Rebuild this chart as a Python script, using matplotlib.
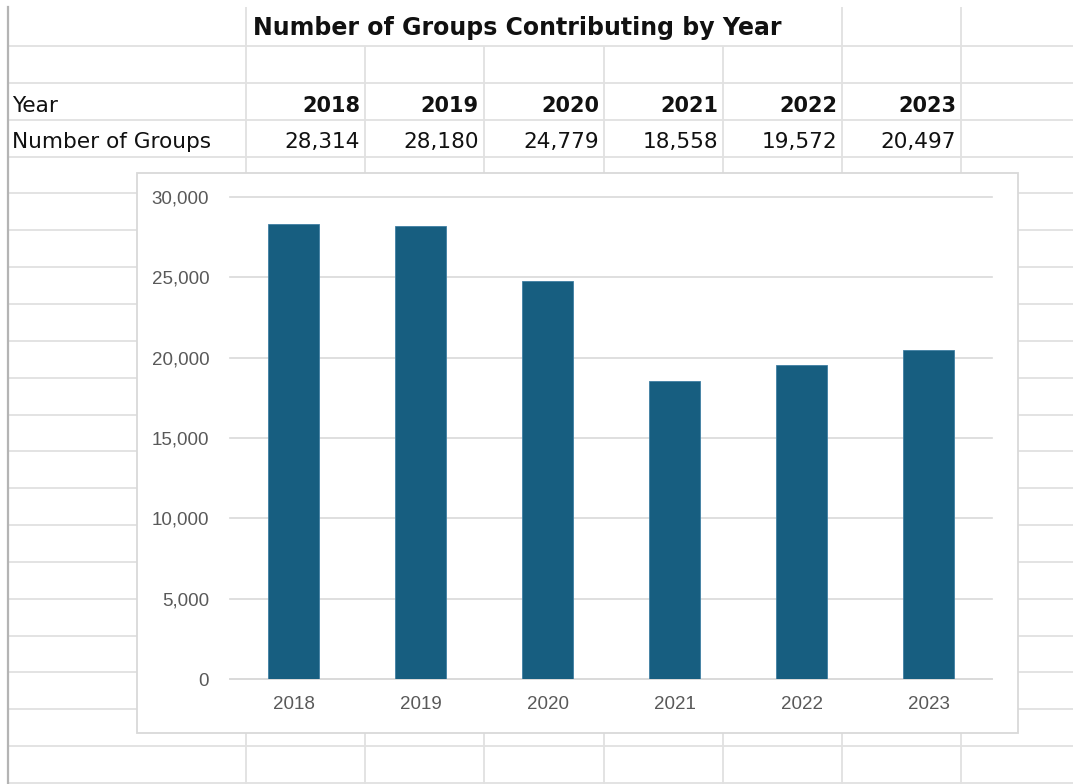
import matplotlib
matplotlib.use("Agg")
import matplotlib.pyplot as plt
from matplotlib.patches import Rectangle
from matplotlib.ticker import FuncFormatter

# ---- data ----
years = ["2018", "2019", "2020", "2021", "2022", "2023"]
groups = [28314, 28180, 24779, 18558, 19572, 20497]
title = "Number of Groups Contributing by Year"
row_labels = ["Year", "Number of Groups"]
y_ticks = [0, 5000, 10000, 15000, 20000, 25000, 30000]

W, H = 1073, 784
fig = plt.figure(figsize=(W / 100, H / 100), dpi=100)
fig.patch.set_facecolor("white")

# ---- spreadsheet background (pixel coordinates) ----
bg = fig.add_axes([0, 0, 1, 1])
bg.set_xlim(0, W)
bg.set_ylim(H, 0)
bg.axis("off")

grid_c = "#e1e1e1"
cols = [246, 365, 484, 604, 723, 842, 961]
row_step = 36.85
rows = [46 + i * row_step for i in range(21)]
top = 7

for r in rows:
    bg.plot([7, W], [r, r], color=grid_c, lw=1.3, solid_capstyle="butt")
for c in cols:
    y0 = top if c in (246, 842, 961) else rows[0]
    bg.plot([c, c], [y0, H], color=grid_c, lw=1.3, solid_capstyle="butt")
bg.plot([7.5, 7.5], [top, H], color="#b4b4b4", lw=1.6)

tfont = dict(family="DejaVu Sans", fontsize=15.6, color="#111111")
bg.text(253, 35, title, fontsize=17, fontweight="bold", family="DejaVu Sans",
        color="#111111", va="baseline", ha="left")
bg.text(12, 111.5, row_labels[0], va="baseline", ha="left", **tfont)
bg.text(12, 148, row_labels[1], va="baseline", ha="left", **tfont)
for i, (yr, g) in enumerate(zip(years, groups)):
    right = cols[i + 1] - 5
    bg.text(right, 111.5, yr, va="baseline", ha="right", fontweight="bold",
            family="DejaVu Sans", fontsize=15, color="#111111")
    bg.text(right, 148, f"{g:,}", va="baseline", ha="right", **tfont)

bg.add_patch(Rectangle((137, 173), 1018 - 137, 733 - 173, facecolor="white",
                       edgecolor="#d9d9d9", lw=1.3, zorder=5))

# ---- chart ----
pl, pr, pt, pb = 230, 992, 197, 679
ax = fig.add_axes([pl / W, 1 - pb / H, (pr - pl) / W, (pb - pt) / H])
ax.set_facecolor("none")
x = list(range(len(years)))
ax.bar(x, groups, width=0.394, color="#175e80", edgecolor="#3f7fa3",
       linewidth=0.6, zorder=3)
ax.set_xlim(-0.5, len(years) - 0.5)
ax.set_ylim(0, 30000)
ax.set_yticks(y_ticks)
ax.yaxis.set_major_formatter(FuncFormatter(lambda v, p: f"{int(v):,}"))
ax.set_xticks(x)
ax.set_xticklabels(years)
ax.grid(axis="y", color="#d9d9d9", lw=1.2, zorder=0)
for gl in ax.get_ygridlines():
    gl.set_clip_on(False)
ax.set_axisbelow(True)
for s in ["top", "right", "left"]:
    ax.spines[s].set_visible(False)
ax.spines["bottom"].set_color("#d9d9d9")
ax.spines["bottom"].set_linewidth(1.2)
ax.tick_params(axis="both", length=0, labelcolor="#595959", labelsize=13.5)
ax.tick_params(axis="y", pad=15)
ax.tick_params(axis="x", pad=12)
for lab in ax.get_xticklabels() + ax.get_yticklabels():
    lab.set_family("Liberation Sans")

fig.savefig("out.png", dpi=100, facecolor="white")
